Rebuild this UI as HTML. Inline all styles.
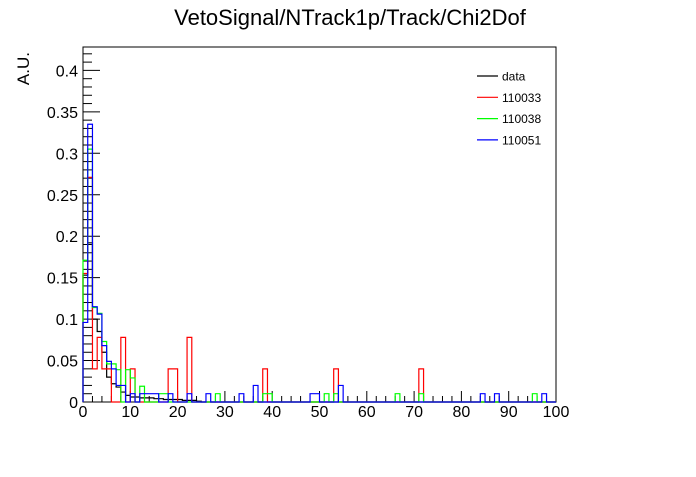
<!DOCTYPE html>
<html><head><meta charset="utf-8"><style>
body{margin:0;background:#fff}
svg text{font-family:"Liberation Sans",Arial,sans-serif}
</style></head><body>
<svg id="chart" width="696" height="472" xmlns="http://www.w3.org/2000/svg">
<rect width="696" height="472" fill="#fff"/>
<text x="350" y="25" font-size="22" text-anchor="middle">VetoSignal/NTrack1p/Track/Chi2Dof</text>
<text transform="translate(29,52) rotate(-90)" font-size="17" text-anchor="end">A.U.</text>
<g id="axes"></g>
<g id="hists"></g>
<g id="legend"></g>
</svg>
<script>
const xTicks=[0,10,20,30,40,50,60,70,80,90,100];
const yTicks=[0,0.05,0.1,0.15,0.2,0.25,0.3,0.35,0.4];
const yTickLabels=["0","0.05","0.1","0.15","0.2","0.25","0.3","0.35","0.4"];
const seriesNames=["data","110033","110038","110051"];
const seriesColors=["#000","#f00","#0f0","#00f"];
const dataBins={0:0.153,1:0.192,2:0.1,3:0.085,4:0.06,5:0.03,6:0.022,7:0.018,8:0.012,9:0.008,10:0.006,11:0.006,12:0.005,13:0.005,14:0.005,15:0.004,16:0.004,17:0.003,18:0.003,19:0.003,20:0.003,21:0.002,22:0.002,23:0.002,24:0.001};
const redBins={0:0.155,1:0.271,2:0.04,3:0.078,4:0.04,5:0.04,8:0.078,10:0.04,18:0.04,19:0.04,22:0.078,38:0.04,53:0.04,71:0.04};
const greenBins={0:0.171,1:0.305,2:0.114,3:0.107,4:0.073,5:0.046,6:0.046,7:0.039,9:0.039,10:0.029,12:0.019,16:0.01,17:0.01,28:0.01,38:0.01,39:0.01,51:0.01,53:0.01,66:0.01,71:0.01,95:0.01};
const blueBins={0:0.096,1:0.335,2:0.115,3:0.106,4:0.068,5:0.049,6:0.04,7:0.02,8:0.02,10:0.01,12:0.01,13:0.01,14:0.01,15:0.01,18:0.01,22:0.01,26:0.01,33:0.01,36:0.02,48:0.01,49:0.01,54:0.02,84:0.01,87:0.01,97:0.01};
const NB=100;
const X0=83,X1=556,Y0=402,YT=47;
const xs=v=>X0+(X1-X0)*v/100;
const ys=v=>Y0-v*829;
const NS="http://www.w3.org/2000/svg";
function mk(t,a,p){const e=document.createElementNS(NS,t);for(const k in a)e.setAttribute(k,a[k]);p.appendChild(e);return e;}
const axes=document.getElementById('axes');
const frame=mk('rect',{x:X0,y:YT,width:X1-X0,height:Y0-YT,fill:'none',stroke:'#000','stroke-width':1},axes);


for(let v=0;v<=0.425;v+=0.01){const y=ys(v);const major=Math.abs(v/0.05-Math.round(v/0.05))<1e-6;
 mk('line',{x1:X0,x2:X0+(major?17:9),y1:y,y2:y,stroke:'#000'},axes);}
yTicks.forEach((v,i)=>{const t=mk('text',{x:78,y:ys(v)+6,'font-size':16,'text-anchor':'end'},axes);t.textContent=yTickLabels[i];
 
 });
for(let v=0;v<=100;v+=2){const x=xs(v);const major=v%10===0;
 mk('line',{x1:x,x2:x,y1:Y0,y2:Y0-(major?11:6),stroke:'#000'},axes);}
xTicks.forEach(v=>{const t=mk('text',{x:xs(v),y:417,'font-size':16,'text-anchor':'middle'},axes);t.textContent=String(v);
 
 });
const hg=document.getElementById('hists');
[dataBins,redBins,greenBins,blueBins].forEach((bins,s)=>{
 let d='M'+xs(0)+' '+Y0;
 for(let i=0;i<NB;i++){const v=bins[i]||0;d+=' L'+xs(i)+' '+ys(v)+' L'+xs(i+1)+' '+ys(v);}
 d+=' L'+xs(NB)+' '+Y0;
 const p=mk('path',{d:d,fill:'none',stroke:seriesColors[s],'stroke-width':1.2},hg);
 
 
});
const lg=document.getElementById('legend');
seriesNames.forEach((n,i)=>{const y=76+i*21.3;
 const l=mk('line',{x1:477,x2:498,y1:y,y2:y,stroke:seriesColors[i],'stroke-width':1.2},lg);
 
 
 const t=mk('text',{x:502,y:y+4.5,'font-size':12},lg);t.textContent=n;
 
 });
</script>
</body></html>
